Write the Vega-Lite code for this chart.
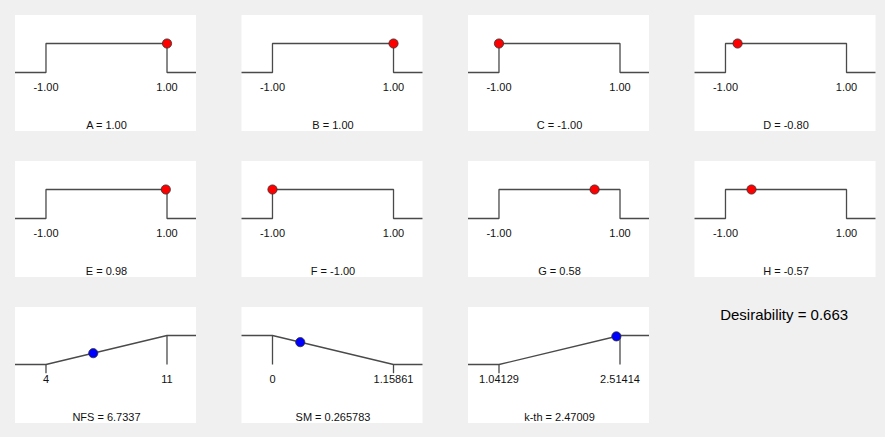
{
  "$schema": "https://vega.github.io/schema/vega-lite/v6.json",
  "background": "#f0f0f0",
  "padding": {"left": 14, "top": 5, "right": 10.5, "bottom": 14},
  "autosize": {"type": "pad"},
  "title": {"text": "Desirability = 0.663", "orient": "bottom", "anchor": "end", "offset": -115, "dx": -28, "font": "Liberation Sans", "fontSize": 15, "fontWeight": "normal", "color": "#000000"},
  "config": {"view": {"stroke": null, "fill": "white"}, "text": {"font": "Liberation Sans"}, "header": {"labels": false, "title": null, "labelExpr": "''", "labelPadding": 0}},
  "data": {"values": [
    {"p": "A = 1.00", "t": "line", "o": 0, "x": -1.512, "d": 0},
    {"p": "A = 1.00", "t": "line", "o": 1, "x": -1, "d": 0},
    {"p": "A = 1.00", "t": "line", "o": 2, "x": -1, "d": 1},
    {"p": "A = 1.00", "t": "line", "o": 3, "x": 1, "d": 1},
    {"p": "A = 1.00", "t": "line", "o": 4, "x": 1, "d": 0},
    {"p": "A = 1.00", "t": "line", "o": 5, "x": 1.479, "d": 0},
    {"p": "A = 1.00", "t": "bound", "x": -1, "label": "-1.00", "role": "range"},
    {"p": "A = 1.00", "t": "bound", "x": 1, "label": "1.00", "role": "range"},
    {"p": "A = 1.00", "t": "point", "x": 1, "d": 1, "grp": "factor"},

    {"p": "B = 1.00", "t": "line", "o": 0, "x": -1.512, "d": 0},
    {"p": "B = 1.00", "t": "line", "o": 1, "x": -1, "d": 0},
    {"p": "B = 1.00", "t": "line", "o": 2, "x": -1, "d": 1},
    {"p": "B = 1.00", "t": "line", "o": 3, "x": 1, "d": 1},
    {"p": "B = 1.00", "t": "line", "o": 4, "x": 1, "d": 0},
    {"p": "B = 1.00", "t": "line", "o": 5, "x": 1.479, "d": 0},
    {"p": "B = 1.00", "t": "bound", "x": -1, "label": "-1.00", "role": "range"},
    {"p": "B = 1.00", "t": "bound", "x": 1, "label": "1.00", "role": "range"},
    {"p": "B = 1.00", "t": "point", "x": 1, "d": 1, "grp": "factor"},

    {"p": "C = -1.00", "t": "line", "o": 0, "x": -1.512, "d": 0},
    {"p": "C = -1.00", "t": "line", "o": 1, "x": -1, "d": 0},
    {"p": "C = -1.00", "t": "line", "o": 2, "x": -1, "d": 1},
    {"p": "C = -1.00", "t": "line", "o": 3, "x": 1, "d": 1},
    {"p": "C = -1.00", "t": "line", "o": 4, "x": 1, "d": 0},
    {"p": "C = -1.00", "t": "line", "o": 5, "x": 1.479, "d": 0},
    {"p": "C = -1.00", "t": "bound", "x": -1, "label": "-1.00", "role": "range"},
    {"p": "C = -1.00", "t": "bound", "x": 1, "label": "1.00", "role": "range"},
    {"p": "C = -1.00", "t": "point", "x": -1, "d": 1, "grp": "factor"},

    {"p": "D = -0.80", "t": "line", "o": 0, "x": -1.512, "d": 0},
    {"p": "D = -0.80", "t": "line", "o": 1, "x": -1, "d": 0},
    {"p": "D = -0.80", "t": "line", "o": 2, "x": -1, "d": 1},
    {"p": "D = -0.80", "t": "line", "o": 3, "x": 1, "d": 1},
    {"p": "D = -0.80", "t": "line", "o": 4, "x": 1, "d": 0},
    {"p": "D = -0.80", "t": "line", "o": 5, "x": 1.479, "d": 0},
    {"p": "D = -0.80", "t": "bound", "x": -1, "label": "-1.00", "role": "range"},
    {"p": "D = -0.80", "t": "bound", "x": 1, "label": "1.00", "role": "range"},
    {"p": "D = -0.80", "t": "point", "x": -0.8, "d": 1, "grp": "factor"},

    {"p": "E = 0.98", "t": "line", "o": 0, "x": -1.512, "d": 0},
    {"p": "E = 0.98", "t": "line", "o": 1, "x": -1, "d": 0},
    {"p": "E = 0.98", "t": "line", "o": 2, "x": -1, "d": 1},
    {"p": "E = 0.98", "t": "line", "o": 3, "x": 1, "d": 1},
    {"p": "E = 0.98", "t": "line", "o": 4, "x": 1, "d": 0},
    {"p": "E = 0.98", "t": "line", "o": 5, "x": 1.479, "d": 0},
    {"p": "E = 0.98", "t": "bound", "x": -1, "label": "-1.00", "role": "range"},
    {"p": "E = 0.98", "t": "bound", "x": 1, "label": "1.00", "role": "range"},
    {"p": "E = 0.98", "t": "point", "x": 0.98, "d": 1, "grp": "factor"},

    {"p": "F = -1.00", "t": "line", "o": 0, "x": -1.512, "d": 0},
    {"p": "F = -1.00", "t": "line", "o": 1, "x": -1, "d": 0},
    {"p": "F = -1.00", "t": "line", "o": 2, "x": -1, "d": 1},
    {"p": "F = -1.00", "t": "line", "o": 3, "x": 1, "d": 1},
    {"p": "F = -1.00", "t": "line", "o": 4, "x": 1, "d": 0},
    {"p": "F = -1.00", "t": "line", "o": 5, "x": 1.479, "d": 0},
    {"p": "F = -1.00", "t": "bound", "x": -1, "label": "-1.00", "role": "range"},
    {"p": "F = -1.00", "t": "bound", "x": 1, "label": "1.00", "role": "range"},
    {"p": "F = -1.00", "t": "point", "x": -1, "d": 1, "grp": "factor"},

    {"p": "G = 0.58", "t": "line", "o": 0, "x": -1.512, "d": 0},
    {"p": "G = 0.58", "t": "line", "o": 1, "x": -1, "d": 0},
    {"p": "G = 0.58", "t": "line", "o": 2, "x": -1, "d": 1},
    {"p": "G = 0.58", "t": "line", "o": 3, "x": 1, "d": 1},
    {"p": "G = 0.58", "t": "line", "o": 4, "x": 1, "d": 0},
    {"p": "G = 0.58", "t": "line", "o": 5, "x": 1.479, "d": 0},
    {"p": "G = 0.58", "t": "bound", "x": -1, "label": "-1.00", "role": "range"},
    {"p": "G = 0.58", "t": "bound", "x": 1, "label": "1.00", "role": "range"},
    {"p": "G = 0.58", "t": "point", "x": 0.58, "d": 1, "grp": "factor"},

    {"p": "H = -0.57", "t": "line", "o": 0, "x": -1.512, "d": 0},
    {"p": "H = -0.57", "t": "line", "o": 1, "x": -1, "d": 0},
    {"p": "H = -0.57", "t": "line", "o": 2, "x": -1, "d": 1},
    {"p": "H = -0.57", "t": "line", "o": 3, "x": 1, "d": 1},
    {"p": "H = -0.57", "t": "line", "o": 4, "x": 1, "d": 0},
    {"p": "H = -0.57", "t": "line", "o": 5, "x": 1.479, "d": 0},
    {"p": "H = -0.57", "t": "bound", "x": -1, "label": "-1.00", "role": "range"},
    {"p": "H = -0.57", "t": "bound", "x": 1, "label": "1.00", "role": "range"},
    {"p": "H = -0.57", "t": "point", "x": -0.57, "d": 1, "grp": "factor"},

    {"p": "NFS = 6.7337", "t": "line", "o": 0, "x": 2.207, "d": 0},
    {"p": "NFS = 6.7337", "t": "line", "o": 1, "x": 4, "d": 0},
    {"p": "NFS = 6.7337", "t": "line", "o": 2, "x": 11, "d": 1},
    {"p": "NFS = 6.7337", "t": "line", "o": 3, "x": 12.678, "d": 1},
    {"p": "NFS = 6.7337", "t": "bound", "x": 4, "label": "4", "role": "min"},
    {"p": "NFS = 6.7337", "t": "bound", "x": 11, "label": "11", "role": "max"},
    {"p": "NFS = 6.7337", "t": "point", "x": 6.7337, "d": 0.3905, "grp": "response"},

    {"p": "SM = 0.265783", "t": "line", "o": 0, "x": -0.2968, "d": 1},
    {"p": "SM = 0.265783", "t": "line", "o": 1, "x": 0, "d": 1},
    {"p": "SM = 0.265783", "t": "line", "o": 2, "x": 1.15861, "d": 0},
    {"p": "SM = 0.265783", "t": "line", "o": 3, "x": 1.4363, "d": 0},
    {"p": "SM = 0.265783", "t": "bound", "x": 0, "label": "0", "role": "max"},
    {"p": "SM = 0.265783", "t": "bound", "x": 1.15861, "label": "1.15861", "role": "min"},
    {"p": "SM = 0.265783", "t": "point", "x": 0.265783, "d": 0.7706, "grp": "response"},

    {"p": "k-th = 2.47009", "t": "line", "o": 0, "x": 0.664, "d": 0},
    {"p": "k-th = 2.47009", "t": "line", "o": 1, "x": 1.04129, "d": 0},
    {"p": "k-th = 2.47009", "t": "line", "o": 2, "x": 2.51414, "d": 1},
    {"p": "k-th = 2.47009", "t": "line", "o": 3, "x": 2.8672, "d": 1},
    {"p": "k-th = 2.47009", "t": "bound", "x": 1.04129, "label": "1.04129", "role": "min"},
    {"p": "k-th = 2.47009", "t": "bound", "x": 2.51414, "label": "2.51414", "role": "max"},
    {"p": "k-th = 2.47009", "t": "point", "x": 2.47009, "d": 0.9701, "grp": "response"}
  ]},
  "facet": {
    "field": "p",
    "type": "nominal",
    "sort": ["A = 1.00", "B = 1.00", "C = -1.00", "D = -0.80", "E = 0.98", "F = -1.00", "G = 0.58", "H = -0.57", "NFS = 6.7337", "SM = 0.265783", "k-th = 2.47009"],
    "header": {"labels": false, "title": null}
  },
  "columns": 4,
  "bounds": "flush",
  "spacing": {"row": 30, "column": 45.5},
  "resolve": {"scale": {"x": "independent"}},
  "spec": {
    "width": 181,
    "height": 116,
    "layer": [
      {
        "transform": [{"filter": "datum.t == 'line'"}],
        "mark": {"type": "line", "color": "#4a4a4a", "strokeWidth": 1.3, "strokeJoin": "bevel"},
        "encoding": {
          "x": {"field": "x", "type": "quantitative", "scale": {"nice": false, "zero": false, "padding": 0}, "axis": null},
          "y": {"field": "d", "type": "quantitative", "scale": {"domain": [-2.017, 1.983], "nice": false, "zero": false}, "axis": null},
          "order": {"field": "o", "type": "quantitative"}
        }
      },
      {
        "transform": [{"filter": "datum.t == 'bound' && datum.role == 'max'"}],
        "mark": {"type": "rule", "color": "#4a4a4a", "strokeWidth": 1.3},
        "encoding": {
          "x": {"field": "x", "type": "quantitative"},
          "y": {"datum": 1},
          "y2": {"datum": 0}
        }
      },
      {
        "transform": [{"filter": "datum.t == 'bound' && datum.role == 'min'"}],
        "mark": {"type": "rule", "color": "#4a4a4a", "strokeWidth": 1.3},
        "encoding": {
          "x": {"field": "x", "type": "quantitative"},
          "y": {"datum": 0},
          "y2": {"datum": -0.3}
        }
      },
      {
        "transform": [{"filter": "datum.t == 'bound'"}],
        "mark": {"type": "text", "fontSize": 11, "color": "#111111", "baseline": "middle", "align": "center"},
        "encoding": {
          "x": {"field": "x", "type": "quantitative"},
          "y": {"datum": -0.534},
          "text": {"field": "label", "type": "nominal"}
        }
      },
      {
        "transform": [{"filter": "datum.t == 'bound'"}],
        "mark": {"type": "text", "fontSize": 11, "color": "#111111", "baseline": "middle", "align": "center"},
        "encoding": {
          "x": {"aggregate": "mean", "field": "x", "type": "quantitative"},
          "y": {"datum": -1.845},
          "text": {"field": "p", "type": "nominal"}
        }
      },
      {
        "transform": [{"filter": "datum.t == 'point'"}],
        "mark": {"type": "point", "shape": "circle", "filled": true, "size": 85, "stroke": "#303030", "strokeWidth": 0.8, "opacity": 1},
        "encoding": {
          "x": {"field": "x", "type": "quantitative"},
          "y": {"field": "d", "type": "quantitative"},
          "color": {"field": "grp", "type": "nominal", "scale": {"domain": ["factor", "response"], "range": ["#ff0000", "#0000ff"]}, "legend": null}
        }
      }
    ]
  }
}
